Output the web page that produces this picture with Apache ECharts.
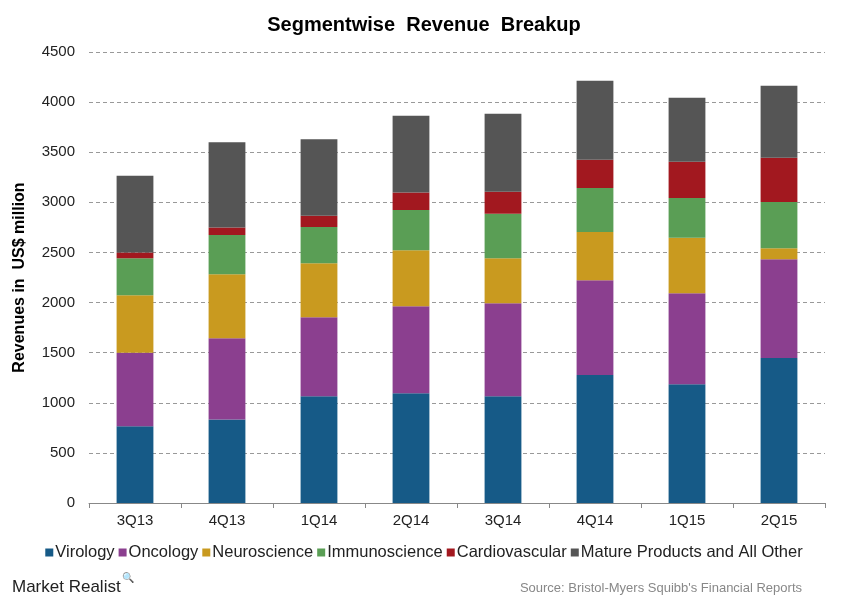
<!DOCTYPE html>
<html><head><meta charset="utf-8">
<script src="https://cdn.jsdelivr.net/npm/echarts@6/dist/echarts.min.js"></script>
<style>html,body{margin:0;padding:0;background:#fff}#c{width:848px;height:611px}</style>
</head><body><div id="c"></div>
<script>
const categories = ['3Q13','4Q13','1Q14','2Q14','3Q14','4Q14','1Q15','2Q15'];
const virology = [766, 833, 1066, 1096, 1066, 1276, 1186, 1446];
const oncology = [734, 810, 787, 867, 927, 947, 907, 987];
const neuroscience = [573, 640, 540, 560, 450, 480, 553, 110];
const immunoscience = [370, 390, 360, 400, 443, 440, 397, 460];
const cardiovascular = [57, 77, 113, 174, 220, 283, 363, 443];
const mature = [766, 850, 764, 766, 777, 787, 637, 717];
const seriesNames = ['Virology','Oncology','Neuroscience','Immunoscience','Cardiovascular','Mature Products and All Other'];
const seriesData = [virology, oncology, neuroscience, immunoscience, cardiovascular, mature];
const colors = ['#165a87','#8b3f8f','#c99a1f','#5a9e55','#a2181f','#555555'];
const FONT = '"Liberation Sans", Arial, sans-serif';

const chart = echarts.init(document.getElementById('c'));
chart.setOption({
  animation: false,
  color: colors,
  title: {
    text: 'Segmentwise  Revenue  Breakup',
    left: 'center', top: 10,
    textStyle: {fontFamily: FONT, fontSize: 20, fontWeight: 'bold', color: '#000'}
  },
  legend: {
    bottom: 45, left: 'center',
    itemWidth: 8, itemHeight: 8, itemGap: 4,
    icon: 'rect',
    textStyle: {fontFamily: FONT, fontSize: 16.5, color: '#222', padding: [0,0,0,-3]},
    data: seriesNames
  },
  grid: {left: 89, right: 23, top: 52, bottom: 108},
  xAxis: {
    type: 'category', data: categories,
    axisLine: {lineStyle: {color: '#888'}},
    axisTick: {show: true, length: 5, lineStyle: {color: '#888'}},
    axisLabel: {fontFamily: FONT, fontSize: 15, color: '#222', margin: 10}
  },
  yAxis: {
    type: 'value', min: 0, max: 4500, interval: 500,
    name: 'Revenues in  US$ million', nameLocation: 'middle', nameGap: 61,
    nameTextStyle: {fontFamily: FONT, fontSize: 16, fontWeight: 'bold', color: '#000'},
    axisLine: {show: false}, axisTick: {show: false},
    axisLabel: {fontFamily: FONT, fontSize: 15, color: '#222', margin: 14, formatter: v => String(v)},
    splitLine: {lineStyle: {color: '#999', type: [4,3]}}
  },
  series: seriesNames.map((n, i) => ({
    name: n, type: 'bar', stack: 'total', barWidth: '40%',
    data: seriesData[i]
  })),
  graphic: [
    {type: 'text', left: 12, top: 579, style: {text: 'Market Realist', font: '17px ' + FONT, fill: '#222'}},
    {type: 'text', left: 122, top: 573, style: {text: '🔍', font: '10px sans-serif', fill: '#222'}},
    {type: 'text', right: 46, top: 582, style: {text: "Source: Bristol-Myers Squibb's Financial Reports", font: '13px ' + FONT, fill: '#888'}}
  ]
});
</script></body></html>
